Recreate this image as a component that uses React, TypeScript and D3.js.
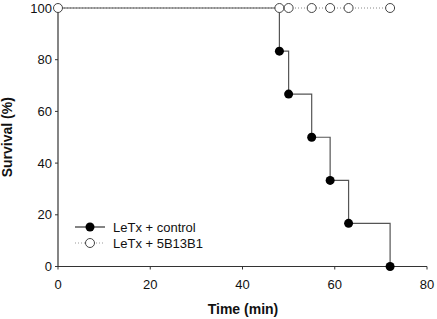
import React from "react";
import * as d3 from "d3";

const controlTimes = [0, 48, 50, 55, 59, 63, 72];
const controlSurvival = [100, 83.3, 66.7, 50, 33.3, 16.7, 0];
const treatedTimes = [0, 48, 50, 55, 59, 63, 72];
const treatedSurvival = [100, 100, 100, 100, 100, 100, 100];
const xTicks = [0, 20, 40, 60, 80];
const yTicks = [0, 20, 40, 60, 80, 100];
const legendLabels = ["LeTx + control", "LeTx + 5B13B1"];

export default function App() {
  const W = 437, H = 319;
  const x = d3.scaleLinear().domain([0, 80]).range([58, 427]);
  const y = d3.scaleLinear().domain([0, 100]).range([266.5, 8]);
  const font = "Arial, 'Liberation Sans', sans-serif";

  const ctrl = controlTimes.map((t, i) => [t, controlSurvival[i]] as [number, number]);
  const trt = treatedTimes.map((t, i) => [t, treatedSurvival[i]] as [number, number]);
  const step = d3.line<[number, number]>().x(d => x(d[0])).y(d => y(d[1])).curve(d3.curveStepAfter);
  const r = 4.5;

  return (
    <svg width={W} height={H} style={{ position: "absolute", left: 0, top: 0, background: "#fff" }}>
      {/* treated dotted line */}
      <path d={step(trt) || ""} fill="none" stroke="#888" strokeWidth={1} strokeDasharray="1,2" />
      {/* control step line */}
      <path d={step(ctrl) || ""} fill="none" stroke="#555" strokeWidth={1.2} />
      {/* axes */}
      <line x1={x(0)} x2={x(0)} y1={y(0)} y2={y(100)} stroke="#333" strokeWidth={1.2} />
      <line x1={x(0)} x2={x(80)} y1={y(0)} y2={y(0)} stroke="#333" strokeWidth={1.2} />
      {xTicks.map(t => (
        <g key={"x" + t}>
          <line x1={x(t)} x2={x(t)} y1={y(0)} y2={y(0) + 3} stroke="#333" />
          <text x={x(t)} y={289} textAnchor="middle" fontFamily={font} fontSize={13} fill="#111">{t}</text>
        </g>
      ))}
      {yTicks.map(t => (
        <g key={"y" + t}>
          <line x1={x(0) - 3} x2={x(0)} y1={y(t)} y2={y(t)} stroke="#333" />
          <text x={x(0) - 6} y={y(t) + 4.5} textAnchor="end" fontFamily={font} fontSize={13} fill="#111">{t}</text>
        </g>
      ))}
      {/* control markers */}
      {ctrl.slice(1).map((d, i) => (
        <circle key={"c" + i} cx={x(d[0])} cy={y(d[1])} r={r} fill="#000" />
      ))}
      {/* treated markers */}
      {trt.map((d, i) => (
        <circle key={"t" + i} cx={x(d[0])} cy={y(d[1])} r={r} fill="#fff" stroke="#444" strokeWidth={1} />
      ))}
      {/* axis titles */}
      <text x={243} y={314} textAnchor="middle" fontFamily={font} fontSize={14} fontWeight="bold" fill="#111">Time (min)</text>
      <text transform={`translate(12,${(y(0) + y(100)) / 2}) rotate(-90)`} textAnchor="middle" fontFamily={font} fontSize={14} fontWeight="bold" fill="#111">Survival (%)</text>
      {/* legend */}
      <g>
        <line x1={75} x2={105} y1={227} y2={227} stroke="#333" strokeWidth={1.2} />
        <circle cx={90} cy={227} r={r} fill="#000" />
        <text x={113} y={231.5} fontFamily={font} fontSize={13} fill="#111">{legendLabels[0]}</text>
        <line x1={75} x2={105} y1={243} y2={243} stroke="#999" strokeWidth={1} strokeDasharray="1,2" />
        <circle cx={90} cy={243} r={r} fill="#fff" stroke="#444" strokeWidth={1} />
        <text x={113} y={247.5} fontFamily={font} fontSize={13} fill="#111">{legendLabels[1]}</text>
      </g>
    </svg>
  );
}
